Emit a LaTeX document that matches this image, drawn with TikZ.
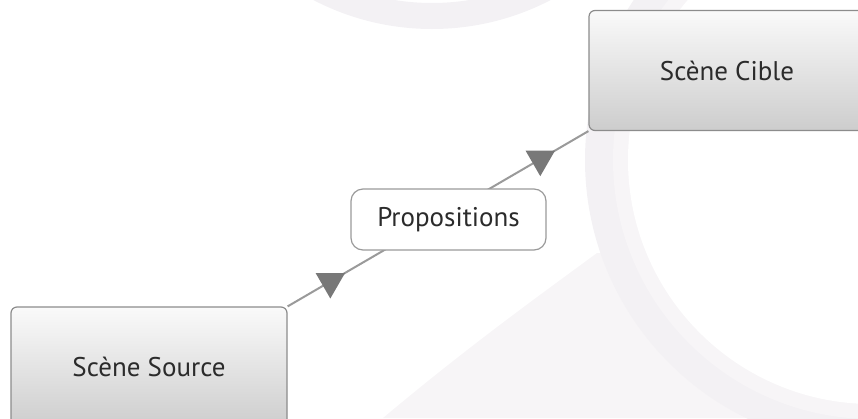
\documentclass[tikz,border=0pt]{standalone}
\usepackage{fontspec}
\setmainfont{PT Sans}
\usetikzlibrary{shapes.geometric}
\definecolor{lineGray}{HTML}{9A9A9A}
\definecolor{tipGray}{HTML}{787878}
\definecolor{boxGray}{HTML}{8C8C8C}
\definecolor{textGray}{HTML}{2B2B2B}
\definecolor{shadeTop}{HTML}{FAFAFA}
\definecolor{shadeBot}{HTML}{CDCDCD}
\definecolor{markDark}{HTML}{F3F1F4}
\definecolor{markLight}{HTML}{F7F5F7}
\begin{document}
\begin{tikzpicture}[x=1pt,y=-1pt,
  scene/.style={draw=boxGray,line width=1.2pt,rounded corners=6pt,top color=shadeTop,bottom color=shadeBot,
    minimum width=276pt,minimum height=120pt,inner sep=0pt,text=textGray,font=\fontsize{27}{30}\selectfont},
  prop/.style={draw=lineGray,line width=1.2pt,rounded corners=12pt,fill=white,
    minimum width=195pt,minimum height=61pt,inner sep=0pt,text=textGray,font=\fontsize{27}{30}\selectfont},
  link/.style={lineGray,line width=2pt},
  tri/.style={regular polygon,regular polygon sides=3,shape border rotate=180,fill=tipGray,inner sep=0pt,minimum size=34pt}]
  \useasboundingbox (0,0) rectangle (858,418);
  \clip (0,0) rectangle (858,418);
  % watermark in the background
  \fill[markDark,even odd rule] (432,-228) circle (257) (432,-228) circle (231);
  \fill[markLight] (383,418) .. controls (470,345) and (540,295) .. (597,253) -- (858,253) -- (858,418) -- cycle;
  \fill[markDark] (872,160) circle (287);
  \fill[markLight] (872,160) circle (259);
  \fill[white] (872,160) circle (244);
  % scenes
  \node[scene] (source) at (149,367) {Scène Source};
  \node[scene] (cible) at (727,70.5) {Scène Cible};
  \draw[link] (source.north east) -- node[tri,pos=.142] (tipA) {} node[tri,pos=.84] (tipB) {} (cible.south west);
  \node[prop] (props) at (448.5,219.5) {Propositions};
\end{tikzpicture}
\end{document}
